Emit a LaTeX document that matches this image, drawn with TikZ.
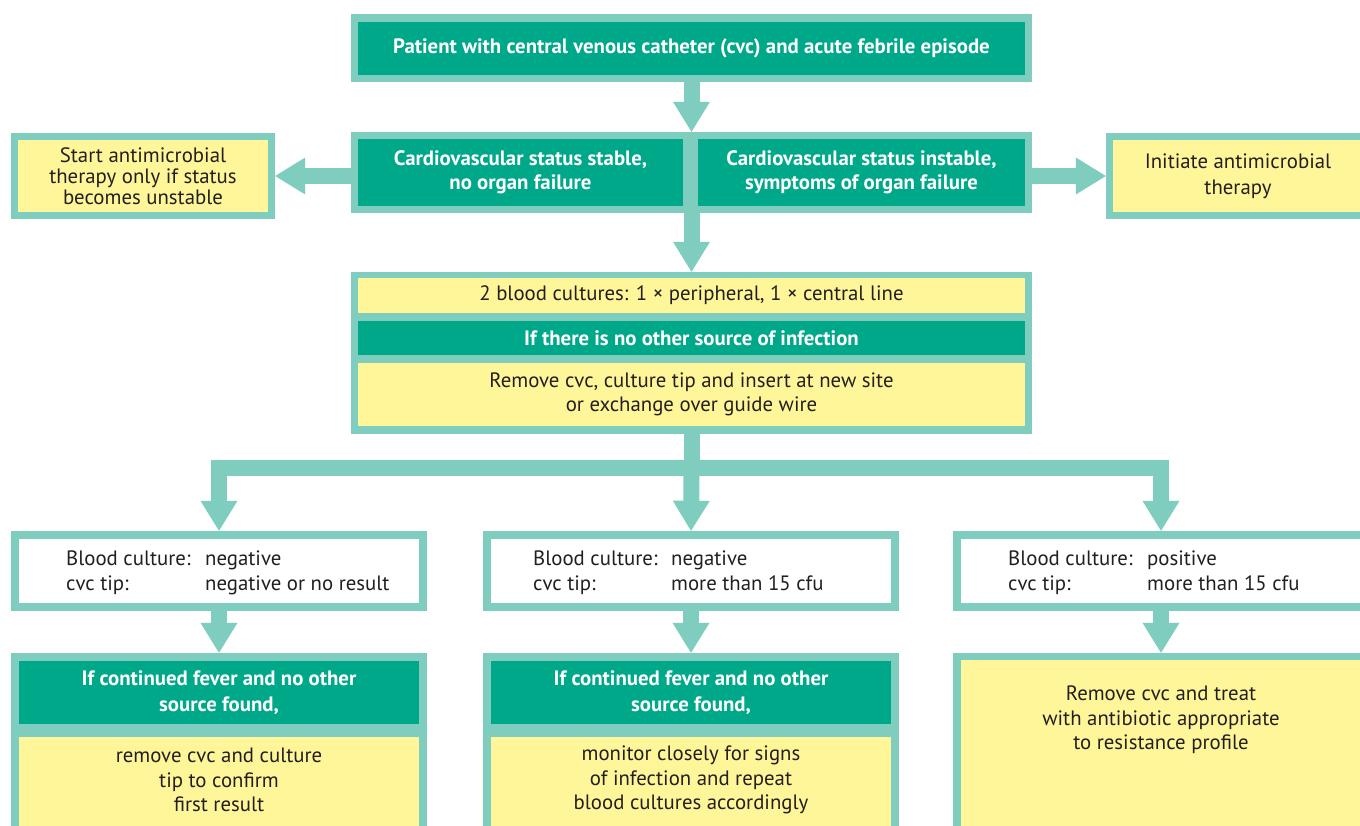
\documentclass[tikz,border=0pt]{standalone}
\usepackage{fontspec}
\setmainfont{PT Sans}
\usetikzlibrary{arrows.meta}
\definecolor{tealb}{RGB}{127,205,191}
\definecolor{darkg}{RGB}{0,168,138}
\definecolor{yel}{RGB}{255,246,153}
\definecolor{txt}{RGB}{35,31,32}
\begin{document}
\begin{tikzpicture}[x=1pt,y=-1pt,
  box/.style={fill=tealb, draw=none, inner sep=0pt, minimum width=#1},
  cell/.style={draw=none, inner sep=0pt, minimum width=#1},
  dk/.style={fill=darkg, text=white, font=\fontsize{20.8}{24}\selectfont\bfseries, align=center},
  yl/.style={fill=yel, text=txt, font=\fontsize{20.8}{24}\selectfont, align=center},
  lbl/.style={text=txt, font=\fontsize{20.8}{24.5}\selectfont, align=center, inner sep=0pt},
  conn/.style={draw=tealb, line width=16pt, line join=miter,
    -{Triangle[length=30pt, width=37pt, line width=0pt]}},
  bar/.style={draw=tealb, line width=16pt, line join=miter}
]
\clip (0,0) rectangle (1360,825);
\fill[white] (0,0) rectangle (1360,825);

% top
\node[box=681pt, minimum height=68pt] (top) at (691.5,48) {};
\node[cell=667pt, minimum height=53pt, dk] (topc) at (691.5,48.5) {Patient with central venous catheter (cvc) and acute febrile episode};

% row 2
\node[box=681pt, minimum height=81pt] (r2) at (691.5,172.5) {};
\node[cell=325pt, minimum height=67pt, dk] (r2l) at (520.5,172.5) {Cardiovascular status stable,\\ no organ failure};
\node[cell=327pt, minimum height=67pt, dk] (r2r) at (861.5,172.5) {Cardiovascular status instable,\\ symptoms of organ failure};

% side boxes
\node[box=264pt, minimum height=86pt] (sl) at (143,176) {};
\node[cell=250pt, minimum height=72pt, yl, font=\fontsize{20.8}{21}\selectfont] (slc) at (143,176) {Start antimicrobial\\ therapy only if status\\ becomes unstable};
\node[box=264pt, minimum height=86pt] (sr) at (1238,176) {};
\node[cell=250pt, minimum height=72pt, yl, font=\fontsize{20.8}{26}\selectfont] (src) at (1238,176) {Initiate antimicrobial\\ therapy};

% third box
\node[box=681pt, minimum height=162pt] (b3) at (691.5,353) {};
\node[cell=667pt, minimum height=35pt, yl] (b3a) at (691.5,295.5) {2 blood cultures: 1 × peripheral, 1 × central line};
\node[cell=667pt, minimum height=34pt, dk] (b3b) at (691.5,338) {If there is no other source of infection};
\node[cell=667pt, minimum height=63pt, yl] (b3c) at (691.5,394.5) {Remove cvc, culture tip and insert at new site\\ or exchange over guide wire};

% row 4
\node[box=416pt, minimum height=80pt] (r4a) at (219,571) {};
\node[cell=400pt, minimum height=64pt, fill=white] at (219,571) {};
\node[lbl, anchor=west, align=left] (t4a) at (66,573) {\begin{tabular}{@{}p{139pt}@{}l@{}}Blood culture: & negative\\ cvc tip: & negative or no result\end{tabular}};
\node[box=416pt, minimum height=80pt] (r4b) at (691,571) {};
\node[cell=400pt, minimum height=64pt, fill=white] at (691,571) {};
\node[lbl, anchor=west, align=left] (t4b) at (533,573) {\begin{tabular}{@{}p{138pt}@{}l@{}}Blood culture: & negative\\ cvc tip: & more than 15 cfu\end{tabular}};
\node[box=416pt, minimum height=80pt] (r4c) at (1161,571) {};
\node[cell=400pt, minimum height=64pt, fill=white] at (1161,571) {};
\node[lbl, anchor=west, align=left] (t4c) at (1008,573) {\begin{tabular}{@{}p{139pt}@{}l@{}}Blood culture: & positive\\ cvc tip: & more than 15 cfu\end{tabular}};

% row 5
\node[box=416pt, minimum height=192pt] (r5a) at (219,749) {};
\node[cell=400pt, minimum height=63pt, dk, font=\fontsize{20.8}{26}\selectfont\bfseries] (r5ah) at (219,692.5) {If continued fever and no other\\ source found,};
\node[cell=400pt, minimum height=108pt, fill=yel] (r5ab) at (219,791) {};
\node[lbl] at (219,780) {remove cvc and culture\\ tip to confirm\\ first result};

\node[box=416pt, minimum height=192pt] (r5b) at (691,749) {};
\node[cell=400pt, minimum height=63pt, dk, font=\fontsize{20.8}{26}\selectfont\bfseries] (r5bh) at (691,692.5) {If continued fever and no other\\ source found,};
\node[cell=400pt, minimum height=108pt, fill=yel] (r5bb) at (691,791) {};
\node[lbl] at (691,780) {monitor closely for signs\\ of infection and repeat\\ blood cultures accordingly};

\node[box=416pt, minimum height=192pt] (r5c) at (1161,749) {};
\node[cell=400pt, minimum height=185pt, fill=yel] (r5cb) at (1161,752.5) {};
\node[lbl] at (1161,720) {Remove cvc and treat\\ with antibiotic appropriate\\ to resistance profile};

% connectors
\draw[conn] (top.south) -- (r2.north);
\draw[conn] (r2.south) -- (b3.north);
\draw[conn] (r2.west |- sl.east) -- (sl.east);
\draw[conn] (r2.east |- sr.west) -- (sr.west);
\coordinate (split) at (691.5,468);
\draw[bar] (b3.south) -- (split);
\draw[conn] (split) -| (r4a.north);
\draw[conn] (split) -| (r4c.north);
\draw[conn] (split) -- (r4b.north);
\draw[conn] (r4a.south) -- (r5a.north);
\draw[conn] (r4b.south) -- (r5b.north);
\draw[conn] (r4c.south) -- (r5c.north);
\end{tikzpicture}
\end{document}
